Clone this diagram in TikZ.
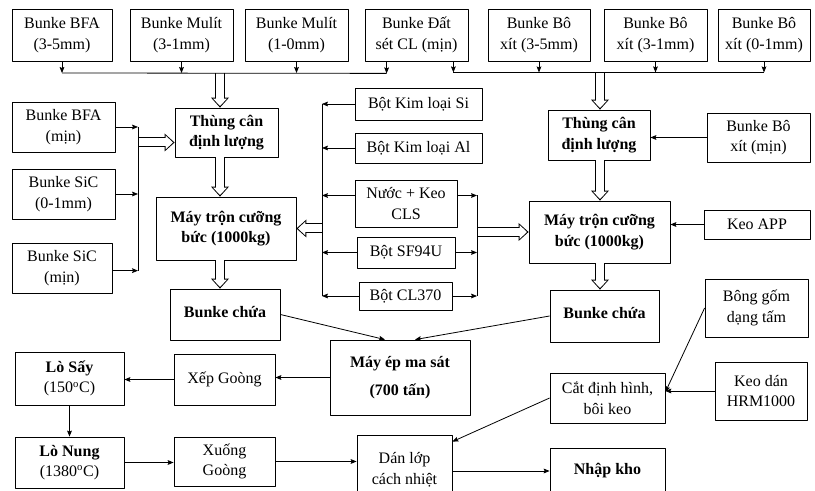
\documentclass[tikz,border=0pt]{standalone}
\usepackage{fontspec}
\setmainfont{Liberation Serif}
\usetikzlibrary{arrows.meta,calc}
\newcommand{\boxfont}{\fontsize{12}{15.5}\selectfont}
\tikzset{
  box/.style={draw, line width=0.6pt, align=center, inner sep=1pt, font=\boxfont},
  bbox/.style={box, font=\boxfont\bfseries},
  sz/.style 2 args={minimum width=#1*0.75pt, minimum height=#2*0.75pt},
  hollow/.style={line width=7.5pt, -{Triangle[length=7.5pt,width=13.5pt,line width=0pt]},
    postaction={draw=white, line width=6pt, shorten >=1.2pt,
      -{Triangle[length=5.6pt,width=10.5pt,line width=0pt]}}},
}
\begin{document}
\begin{tikzpicture}
  [x=0.75pt, y=-0.75pt, line width=0.6pt, line join=round,
   >={Stealth[length=4.5pt,width=3.6pt,inset=0.8pt]}]
  \useasboundingbox (0,0) rectangle (815,491);
  % hang tren
  \node[box, sz={100}{52}] (bfa35) at (62,35) {Bunke BFA\\(3-5mm)};
  \node[box, sz={103}{52}] (mulit31) at (181.5,35) {Bunke Mulít\\(3-1mm)};
  \node[box, sz={103}{52}] (mulit10) at (296.5,35) {Bunke Mulít\\(1-0mm)};
  \node[box, sz={103}{52}] (datset) at (416.5,35) {Bunke Đất\\sét CL (mịn)};
  \node[box, sz={102}{52}] (boxit35) at (539,35) {Bunke Bô\\xít (3-5mm)};
  \node[box, sz={103}{52}] (boxit31) at (655.5,35) {Bunke Bô\\xít (3-1mm)};
  \node[box, sz={92}{52}] (boxit01) at (764,35) {Bunke Bô\\xít (0-1mm)};
  % cot trai
  \node[box, sz={103}{50}] (bfamin) at (63.5,127) {Bunke BFA\\(mịn)};
  \node[box, sz={103}{50}] (sic01) at (63.5,194) {Bunke SiC\\(0-1mm)};
  \node[box, sz={100}{50}] (sicmin) at (62,268) {Bunke SiC\\(mịn)};
  \node[bbox, sz={103}{49}] (thungL) at (226.5,132.5) {Thùng cân\\định lượng};
  \node[bbox, sz={140}{63}] (mayL) at (226,228.5) {Máy trộn cưỡng\\bức (1000kg)};
  \node[bbox, sz={110}{51}] (chuaL) at (225,314.5) {\raisebox{4pt}{Bunke chứa}};
  % cot giua
  \node[box, sz={127}{32}] (si) at (418.5,104) {Bột Kim loại Si};
  \node[box, sz={127}{30}] (al) at (418.5,148) {Bột Kim loại Al};
  \node[box, sz={102}{47}] (nuoc) at (406,203.5) {Nước + Keo\\CLS};
  \node[box, sz={98}{31}] (sf) at (406,252.5) {Bột SF94U};
  \node[box, sz={93}{28}] (cl) at (405.5,296) {Bột CL370};
  % cot phai
  \node[bbox, sz={102}{50}] (thungR) at (599,135) {Thùng cân\\định lượng};
  \node[box, sz={103}{49}] (bxmin) at (758.5,137.5) {Bunke Bô\\xít (mịn)};
  \node[bbox, sz={141}{62}] (mayR) at (599.5,232) {Máy trộn cưỡng\\bức (1000kg)};
  \node[box, sz={106}{29}] (app) at (757,224.5) {Keo APP};
  \node[bbox, sz={109}{52}] (chuaR) at (604.5,316) {\raisebox{4pt}{Bunke chứa}};
  \node[box, sz={103}{58}] (bong) at (756.5,308) {Bông gốm\\dạng tấm};
  \node[box, sz={115}{50}] (cat) at (607.5,398) {Cắt định hình,\\bôi keo};
  \node[box, sz={92}{58}] (keo) at (761,391) {Keo dán\\HRM1000};
  \node[bbox, sz={115}{46}] (kho) at (607.5,471) {Nhập kho};
  % hang duoi
  \node[bbox, sz={140}{75}] (mayep) at (400,377.5) {Máy ép ma sát\\[5pt](700 tấn)};
  \node[box, sz={109}{53}] (losay) at (69.5,378.5) {\textbf{Lò Sấy}\\(150\textsuperscript{o}C)};
  \node[box, sz={101}{51}] (xep) at (224.5,379.5) {Xếp Goòng};
  \node[box, sz={109}{51}] (lonung) at (69.5,462.5) {\textbf{Lò Nung}\\(1380\textsuperscript{o}C)};
  \node[box, sz={101}{49}] (xuong) at (224.5,461.5) {Xuống\\Goòng};
  \node[box, sz={95}{70}] (dan) at (404.5,470) {Dán lớp\\cách nhiệt};

  \coordinate (busL) at (65,73);
  \coordinate (busLe) at ($(datset.south west)+(22,12)$);
  \coordinate (busR) at ($(datset.south east)+(-15,11)$);
  \coordinate (hL) at (220,0);
  \coordinate (hR) at (600,0);
  \coordinate (vL) at (138,0);
  \coordinate (vM) at (322,0);
  \coordinate (vN) at (477,0);
  \coordinate (thungLin) at ($(thungL.west)+(0,10)$);
  \coordinate (nuocL) at ([yshift=6pt]nuoc.west);
  \coordinate (nuocR) at ([yshift=6pt]nuoc.east);
  \coordinate (catR) at ([yshift=4.5pt]cat.east);

  \draw[hollow] (hL |- busL) -- (hL |- thungL.north);
  \draw[hollow] (hL |- thungL.south) -- (hL |- mayL.north);
  \draw[hollow] (hL |- mayL.south) -- (hL |- chuaL.north);
  \draw[hollow] (hR |- busR) -- (hR |- thungR.north);
  \draw[hollow] (hR |- thungR.south) -- (hR |- mayR.north);
  \draw[hollow] (hR |- mayR.south) -- (hR |- chuaR.north);
  \draw[hollow] (vL |- thungLin) -- (thungLin);
  \draw[hollow] (vM |- mayL.east) -- (mayL.east);
  \draw[hollow] (vN |- mayR.west) -- (mayR.west);

  \draw[->] (bfa35.south) -- (bfa35.south |- busL);
  \draw[->] (mulit31.south) -- (mulit31.south |- busL);
  \draw[->] (mulit10.south) -- (mulit10.south |- busL);
  \draw[->] (busLe |- datset.south) -- (busLe);
  \draw (bfa35.south |- busL) -- (busLe);
  \draw[->] (busR |- datset.south) -- (busR);
  \draw[->] (boxit35.south) -- (boxit35.south |- busR);
  \draw[->] (boxit31.south) -- (boxit31.south |- busR);
  \draw[->] (boxit01.south) -- (boxit01.south |- busR);
  \draw (busR) -- (boxit01.south |- busR);

  \draw[->] (bfamin.east) -- (bfamin.east -| vL);
  \draw[->] (sic01.east) -- (sic01.east -| vL);
  \draw[->] ([yshift=-2pt]sicmin.east) -- ([yshift=-2pt]sicmin.east -| vL);
  \draw (bfamin.east -| vL) -- ([yshift=-2pt]sicmin.east -| vL);

  \draw[->] (si.west) -- (si.west -| vM);
  \draw[->] (al.west) -- (al.west -| vM);
  \draw[->] (nuocL) -- (nuocL -| vM);
  \draw[->] (sf.west) -- (sf.west -| vM);
  \draw[->] (cl.west) -- (cl.west -| vM);
  \draw (vM |- si.west) -- (vM |- cl.west);
  \draw[->] (nuocR) -- (nuocR -| vN);
  \draw[->] (sf.east) -- (sf.east -| vN);
  \draw[->] (cl.east) -- (cl.east -| vN);
  \draw (nuocR -| vN) -- (cl.east -| vN);

  \draw[->] (bxmin.west) -- (bxmin.west -| thungR.east);
  \draw[->] (app.west) -- (app.west -| mayR.east);

  \draw[->] (chuaL.east) -- ([xshift=-11.25pt]mayep.north);
  \draw[->] (chuaR.west) -- ([xshift=11.25pt]mayep.north);
  \draw[->] (mayep.west) -- (mayep.west -| xep.east);
  \draw[->] (xep.west) -- (xep.west -| losay.east);
  \draw[->] (losay.south) -- (lonung.north);
  \draw[->] (lonung.east) -- (lonung.east -| xuong.west);
  \draw[->] (xuong.east) -- (xuong.east -| dan.west);
  \draw[->] (bong.west) -- (catR);
  \draw[->] (keo.west) -- (keo.west -| cat.east);
  \draw[->] (cat.west) -- ([yshift=-5.25pt]dan.north east);
  \draw[->] (dan.east |- kho.west) -- (kho.west);
\end{tikzpicture}
\end{document}
